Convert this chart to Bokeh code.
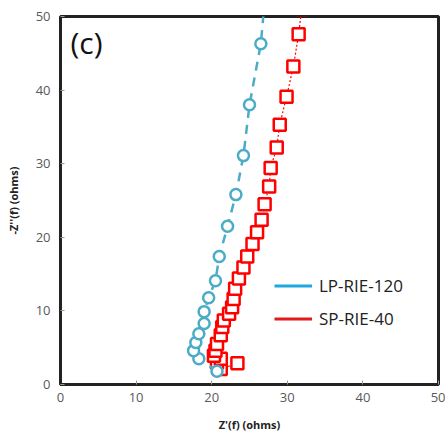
from bokeh.plotting import figure
from bokeh.models import Range1d, Legend, LegendItem, Label, FixedTicker
from bokeh.embed import file_html
from bokeh.resources import INLINE

# LP-RIE-120 (blue circles)
lp_x = [20.7, 18.3, 17.6, 17.9, 18.3, 19.0, 19.0, 19.6, 20.5, 21.0, 22.1, 23.2, 24.2, 25.0, 26.5, 27.0]
lp_y = [1.8, 3.5, 4.6, 5.7, 6.9, 8.3, 9.9, 11.8, 14.1, 17.4, 21.5, 25.8, 31.1, 38.0, 46.3, 52.0]

# SP-RIE-40 (red squares)
sp_x = [23.4, 21.2, 20.7, 21.2, 20.3, 20.5, 20.7, 21.2, 21.4, 21.6, 22.3, 22.7, 22.9, 23.1,
        23.6, 24.2, 24.7, 25.4, 26.0, 26.6, 27.0, 27.6, 27.8, 28.6, 29.0, 29.9, 30.8, 31.5, 31.9]
sp_y = [2.9, 2.1, 3.0, 3.5, 3.9, 4.6, 5.5, 6.7, 7.8, 8.7, 9.6, 10.5, 11.6, 13.0,
        14.4, 15.9, 17.4, 19.1, 20.7, 22.4, 24.5, 26.9, 29.4, 32.2, 35.3, 39.1, 43.2, 47.6, 51.0]

ticks = [0, 10, 20, 30, 40, 50]
series_names = ["LP-RIE-120", "SP-RIE-40"]

blue = "#4BACC6"
red = "#FF0000"

p = figure(width=445, height=436, output_backend="svg", toolbar_location=None,
           x_range=Range1d(0, 50), y_range=Range1d(0, 50),
           min_border_left=60, min_border_right=7, min_border_top=16, min_border_bottom=52)

p.xgrid.visible = False
p.ygrid.visible = False
p.outline_line_color = "#222222"
p.outline_line_width = 3
p.background_fill_color = "white"
p.border_fill_color = "white"

for ax in (p.xaxis[0], p.yaxis[0]):
    ax.ticker = FixedTicker(ticks=ticks)
    ax.axis_line_color = "#222222"
    ax.axis_line_width = 3
    ax.major_tick_in = 4
    ax.major_tick_out = 0
    ax.major_tick_line_color = "#999999"
    ax.minor_tick_line_color = None
    ax.major_label_text_color = "#595959"
    ax.major_label_text_font = "Open Sans"
    ax.major_label_text_font_size = "13px"
    ax.axis_label_text_font = "Open Sans"
    ax.axis_label_text_font_style = "bold"
    ax.axis_label_text_font_size = "11px"
    ax.axis_label_text_color = "#222222"

p.xaxis.axis_label = "Z'(f) (ohms)"
p.yaxis.axis_label = "-Z''(f) (ohms)"
p.xaxis.major_label_standoff = 8
p.yaxis.major_label_standoff = 10
p.xaxis.axis_label_standoff = 12
p.yaxis.axis_label_standoff = 12

# data: red first, blue on top
p.line(sp_x, sp_y, line_color=red, line_width=1.2, line_dash="2 2")
p.scatter(sp_x, sp_y, marker="square", size=12, fill_color="white",
          line_color=red, line_width=2.5)

p.line(lp_x, lp_y, line_color=blue, line_width=2.5, line_dash="9 7")
p.scatter(lp_x, lp_y, marker="circle", size=11, fill_color="white",
          line_color=blue, line_width=2.5)

# legend entries (solid lines); single-point lines draw nothing in the plot
lg1 = p.line(lp_x[:1], lp_y[:1], line_color="#1FA8DF", line_width=3)
lg2 = p.line(sp_x[:1], sp_y[:1], line_color="#E31A1C", line_width=3)
legend = Legend(items=[LegendItem(label=series_names[0], renderers=[lg1]),
                       LegendItem(label=series_names[1], renderers=[lg2])],
                location=(214, 54), border_line_color=None,
                background_fill_alpha=0, label_text_font="Open Sans",
                label_text_font_size="17px", label_text_color="#222222",
                glyph_width=38, glyph_height=23, label_height=23,
                spacing=10, label_standoff=7, padding=10, margin=0)
p.add_layout(legend, "center")

p.add_layout(Label(x=10, y=322, x_units="screen", y_units="screen", text="(c)",
                   text_font="Open Sans", text_font_size="30px", text_color="#111111"))

open("out.html", "w").write(file_html(p, INLINE))
